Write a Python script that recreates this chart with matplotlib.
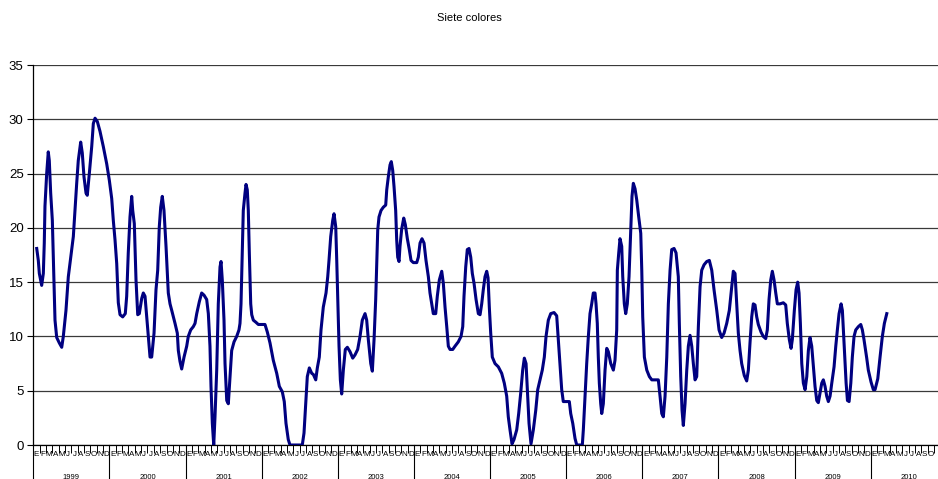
import matplotlib
matplotlib.use("Agg")
import matplotlib.pyplot as plt
import matplotlib.transforms as mtransforms

# Time in months since the start of January 1999
mes = [0.54, 0.79, 0.95, 1.32, 1.58, 1.73, 1.84, 2.11, 2.36, 2.52, 2.74, 3.00, 3.26, 3.42, 3.69, 4.10,
       4.48, 4.73, 5.15, 5.52, 5.90, 6.31, 6.57, 6.84, 7.09, 7.47, 7.72, 7.99, 8.31, 8.51, 8.83, 9.21,
       9.46, 9.73, 10.09, 10.51, 11.03, 11.57, 11.98, 12.36, 12.61, 12.88, 13.15, 13.40, 13.67, 14.09,
       14.50, 14.72, 14.97, 15.24, 15.51, 15.67, 15.92, 16.19, 16.46, 16.71, 17.09, 17.34, 17.61, 17.88,
       18.13, 18.40, 18.66, 19.03, 19.34, 19.61, 19.86, 20.08, 20.33, 20.60, 20.92, 21.28,
       21.55, 21.82, 22.34, 22.70, 22.86, 23.12, 23.39, 23.76, 24.18, 24.43, 24.81, 25.22, 25.49, 25.76,
       26.17, 26.54, 26.91, 27.33, 27.59, 27.85, 28.01, 28.22, 28.44, 28.64, 28.91, 29.16, 29.43, 29.59,
       29.79, 30.06, 30.22, 30.49, 30.74, 31.01, 31.27, 31.64, 32.06, 32.42, 32.58, 32.74, 32.94, 33.10,
       33.37, 33.53, 33.73, 33.89, 34.05, 34.27, 34.43, 34.68, 35.10, 35.47, 36.00, 36.52, 36.89, 37.31,
       37.83, 38.37, 38.78, 39.25, 39.56, 39.83, 40.19, 40.46, 40.98, 41.77, 42.40, 42.67, 42.94, 43.19,
       43.51, 43.89,
       44.14, 44.52, 44.77, 45.08, 45.35, 45.71, 46.14, 46.41, 46.61, 46.88, 47.20, 47.40, 47.67, 47.83,
       48.03, 48.19, 48.40, 48.61, 48.87, 49.18, 49.50, 49.92, 50.35, 50.71, 51.13, 51.50, 51.86, 52.29,
       52.55, 52.81, 53.19, 53.44, 53.71, 53.97, 54.13, 54.29, 54.49, 54.81, 55.17, 55.55, 55.71, 55.96,
       56.23, 56.43, 56.65, 56.86, 57.12, 57.28, 57.44, 57.65, 57.80, 58.07, 58.39, 58.64, 58.96, 59.27,
       59.54, 59.90, 60.44, 60.69, 60.96, 61.27, 61.59, 61.90, 62.27, 62.53, 62.80, 63.05, 63.43, 63.68,
       64.00, 64.38, 64.63, 64.90, 65.17, 65.42, 65.69, 66.11,
       66.47, 66.99, 67.42, 67.69, 67.89, 68.16, 68.41, 68.68, 68.95, 69.20, 69.47, 69.79, 70.15, 70.42,
       70.68, 70.93, 71.20, 71.47, 71.68, 71.88, 72.10, 72.35, 72.78, 73.30, 73.83, 74.24, 74.62, 74.87,
       75.14, 75.46, 75.77, 76.20, 76.51, 76.83, 77.14, 77.40, 77.67, 77.87, 78.14, 78.45, 78.82, 79.20,
       79.51, 79.87, 80.23, 80.55, 80.82, 81.18, 81.56, 82.08, 82.50, 82.76, 83.02, 83.29, 83.54, 84.08,
       84.49, 84.71, 85.03, 85.39, 85.66, 86.18, 86.54, 86.70, 86.97, 87.23, 87.49,
       87.75, 88.02, 88.27, 88.54, 88.70, 88.90, 89.06, 89.22, 89.44, 89.60, 89.85, 90.12, 90.39, 90.64,
       91.02, 91.43, 91.69, 91.96, 92.06, 92.28, 92.48, 92.75, 92.91, 93.16, 93.38, 93.63, 93.90, 94.17,
       94.37, 94.58, 94.85, 95.11, 95.43, 95.75, 95.91, 96.06, 96.32, 96.70, 97.11, 97.49, 98.00, 98.52,
       98.79, 99.06, 99.31, 99.58, 99.85, 100.10, 100.37, 100.63, 101.00, 101.31, 101.67, 101.83, 102.05,
       102.26, 102.46, 102.73, 103.00, 103.25, 103.52, 103.79, 104.04, 104.31, 104.57, 104.83, 105.10,
       105.36, 105.73, 106.15, 106.56, 106.94, 107.30, 107.73, 108.09, 108.51, 108.88, 109.30, 109.71,
       110.09, 110.34,
       110.61, 110.88, 111.13, 111.40, 111.66, 112.07, 112.45, 112.71, 112.97, 113.24, 113.49, 113.76,
       114.03, 114.28, 114.71, 115.07, 115.45, 115.70, 115.97, 116.24, 116.49, 116.76, 117.03, 117.28,
       117.70, 118.22, 118.60, 118.85, 119.17, 119.44, 119.64, 119.96, 120.23, 120.49, 120.70, 120.91,
       121.13, 121.38, 121.65, 121.92, 122.17, 122.43, 122.70, 122.96, 123.22, 123.49, 123.74, 124.01,
       124.28, 124.53, 124.80, 125.06, 125.32, 125.59, 125.86, 126.22, 126.49, 126.74, 127.01, 127.33,
       127.53, 127.80, 128.12, 128.33, 128.59, 128.86, 129.10, 129.37, 129.64, 130.05, 130.43, 130.68,
       130.94, 131.37, 131.62, 132.05, 132.41, 132.68, 133.11, 133.47, 133.83, 134.15, 134.53]

valor = [18.1, 17.0, 15.8, 14.7, 15.8, 18.6, 22.0, 25.0, 27.0, 26.2, 23.2, 20.7, 14.9, 11.5, 9.9, 9.4,
         9.0, 10.0, 12.4, 15.5, 17.3, 19.2, 21.6, 24.1, 26.2, 27.9, 26.9, 24.7, 23.2, 23.0, 25.0, 27.5,
         29.6, 30.1, 29.8, 28.9, 27.5, 25.9, 24.4, 22.7, 20.7, 18.9, 16.7, 13.1, 12.0, 11.8,
         12.1, 13.7, 17.7, 21.0, 22.9, 21.6, 20.4, 15.2, 12.0, 12.1, 13.5, 14.0, 13.7, 11.8,
         10.0, 8.1, 8.1, 10.3, 14.3, 16.1, 20.1, 21.9, 22.9, 21.6, 18.3, 14.0,
         13.0, 12.4, 11.2, 10.3, 8.7, 7.7, 7.0, 8.1, 9.1, 10.0, 10.6, 10.9, 11.2, 12.1,
         13.2, 14.0, 13.8, 13.4, 12.1, 9.1, 5.4, 2.0, 0.0, 2.6, 6.9, 13.0, 16.4, 16.9,
         15.2, 11.5, 7.5, 4.1, 3.8, 6.3, 8.7, 9.5, 10.0, 10.6, 11.2, 13.0, 18.0, 21.6,
         23.2, 24.0, 23.5, 21.6, 17.7, 13.0, 12.0, 11.5, 11.3, 11.1, 11.1, 11.1, 10.4, 9.4,
         7.8, 6.6, 5.4, 4.9, 4.0, 2.0, 0.5, 0.0, 0.0, 0.0, 0.0, 1.1, 3.8, 6.3,
         7.1, 6.6,
         6.5, 6.0, 7.1, 8.1, 10.6, 12.7, 14.0, 15.5, 17.0, 19.2, 20.7, 21.3, 20.1, 17.0,
         12.7, 9.1, 6.0, 4.7, 6.9, 8.8, 9.0, 8.6, 8.0, 8.3, 8.8, 10.0, 11.5, 12.1,
         11.5, 9.7, 7.5, 6.8, 9.7, 13.4, 16.7, 19.8, 21.0, 21.6, 21.9, 22.1, 23.5, 24.7,
         25.8, 26.1, 25.3, 23.8, 21.6, 18.9, 17.3, 16.9, 18.3, 19.9, 20.9, 20.3, 19.0, 18.0,
         17.0, 16.8, 16.8, 17.3, 18.6, 19.0, 18.6, 17.0, 15.5, 14.0, 13.0, 12.1, 12.1, 13.7,
         15.2, 16.0, 14.9, 12.7, 10.9, 9.1, 8.8, 8.8,
         9.1, 9.5, 10.0, 10.9, 13.7, 16.4, 18.0, 18.1, 17.3, 15.8, 14.9, 13.4, 12.1, 12.0,
         13.0, 14.3, 15.5, 16.0, 15.4, 12.7, 10.3, 8.1, 7.5, 7.2, 6.6, 5.7, 4.5, 2.6,
         1.4, 0.1, 0.5, 1.4, 2.9, 4.8, 6.9, 8.0, 7.5, 5.1, 2.0, 0.1, 1.4, 3.2,
         5.1, 6.0, 6.9, 8.1, 10.0, 11.5, 12.1, 12.2, 11.9, 9.7, 7.5, 5.1, 4.0, 4.0,
         4.0, 2.9, 2.0, 0.6, 0.0, 0.0, 0.0, 1.4, 4.5, 7.5, 10.0,
         12.1, 13.0, 14.0, 14.0, 13.0, 11.2, 8.1, 5.7, 3.8, 2.9, 3.8, 6.9, 8.9, 8.6,
         7.5, 6.9, 7.8, 10.6, 16.1, 17.7, 19.0, 18.3, 15.5, 13.0, 12.1, 13.0, 15.5, 19.8,
         22.9, 24.1, 23.6, 22.6, 21.0, 19.5, 16.1, 11.8, 8.1, 6.9, 6.3, 6.0, 6.0, 6.0,
         4.5, 2.9, 2.6, 4.5, 8.1, 13.0, 16.1, 18.0, 18.1, 17.7, 15.5, 11.2, 6.3,
         3.2, 1.8, 3.8, 6.9, 9.1, 10.1, 9.1, 7.5, 6.0, 6.3, 10.9, 14.6,
         16.1, 16.6, 16.9, 17.0, 16.1, 14.3, 12.4, 10.6, 9.9, 10.3, 11.2, 12.4,
         14.6, 16.0,
         15.8, 13.0, 10.3, 8.7, 7.5, 6.4, 5.9, 6.9, 9.4, 11.8, 13.0, 12.9,
         11.8, 11.1, 10.4, 10.0, 9.8, 10.6, 13.4, 15.2, 16.0, 15.2, 14.0, 13.0,
         13.0, 13.1, 12.9, 11.2, 9.7, 8.9, 9.7, 12.4, 14.3, 15.0, 14.0, 11.2,
         7.5, 5.7, 5.1, 6.3, 8.7, 9.9, 9.1, 7.2, 5.4, 4.1, 3.9, 4.8,
         5.7, 6.0, 5.4, 4.5, 4.0, 4.5, 5.7, 7.2, 9.1, 10.6, 12.1, 13.0,
         12.4, 9.4, 5.7, 4.1, 4.0, 5.7, 8.1, 10.0, 10.6, 10.9, 11.1, 10.6,
         9.7, 8.0, 6.9, 5.8, 5.1, 5.1, 6.1, 8.1, 10.0, 11.2, 12.1]

anios = ["1999", "2000", "2001", "2002", "2003", "2004", "2005", "2006", "2007", "2008", "2009", "2010"]
meses = ["E", "F", "M", "A", "M", "J", "J", "A", "S", "O", "N", "D"]
yticks = [0, 5, 10, 15, 20, 25, 30, 35]
titulo = "Siete colores"

plt.rcParams["font.family"] = ["Liberation Sans", "DejaVu Sans"]

W, H = 938, 479
fig = plt.figure(figsize=(W / 100, H / 100), dpi=100)
left, right, top, bottom = 33.3, 33.3 + 12 * 76.13, 65, 445
ax = fig.add_axes([left / W, 1 - bottom / H, (right - left) / W, (bottom - top) / H])

ax.plot(mes, valor, color="#000080", lw=2.2, solid_joinstyle="round", zorder=3)

n = len(anios) * 12
ax.set_xlim(0, n)
ax.set_ylim(0, 35)
ax.set_yticks(yticks)
ax.set_yticklabels([str(v) for v in yticks], fontsize=9.5)
ax.yaxis.grid(True, color="#3a3a3a", lw=0.9)
ax.set_axisbelow(True)
for s in ["top", "right"]:
    ax.spines[s].set_visible(False)
ax.spines["left"].set_linewidth(0.9)
ax.spines["bottom"].set_linewidth(0.9)
ax.tick_params(axis="y", length=4, width=0.8, pad=3, direction="out")

# month boundaries as ticks, month letters centered between them
ax.set_xticks(range(0, n + 1))
ax.set_xticklabels([])
ax.tick_params(axis="x", which="major", length=6, width=0.7, direction="out")
# the chart is cropped at the right edge: the last month letters fall outside the image
nvis = n - 2
ax.set_xticks([i + 0.5 for i in range(nvis)], minor=True)
ax.set_xticklabels([meses[i % 12] for i in range(nvis)], minor=True, fontsize=5.8)
ax.tick_params(axis="x", which="minor", length=0, pad=4)

trans = mtransforms.blended_transform_factory(ax.transData, ax.transAxes)
for k in range(len(anios) + 1):
    ax.plot([12 * k, 12 * k], [0, -0.1], transform=trans, color="black", lw=0.8, clip_on=False)
for k, a in enumerate(anios):
    ax.text(12 * k + 6, -0.085, a, transform=trans, ha="center", va="center", fontsize=5.5)

fig.text(0.5, 1 - 18 / H, titulo, ha="center", va="center", fontsize=8)

fig.savefig("out.png", dpi=100)
